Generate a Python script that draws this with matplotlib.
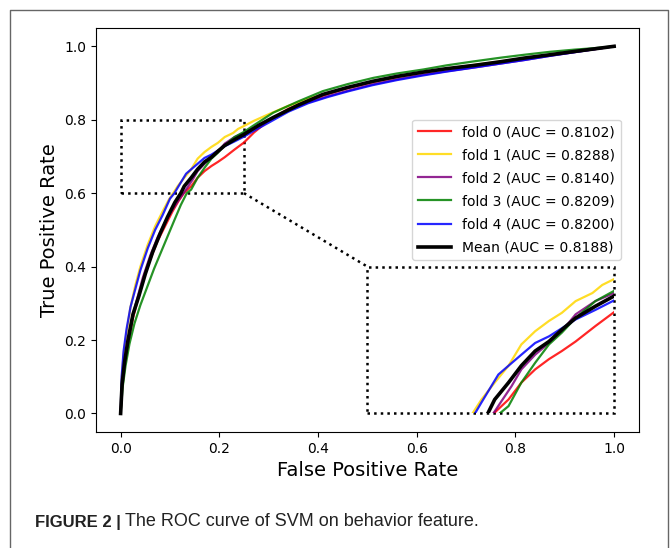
import matplotlib
matplotlib.use("Agg")
import matplotlib.pyplot as plt
from matplotlib.patches import Rectangle
from matplotlib.lines import Line2D

# ROC points, one list pair per fold
fold0_fpr = [0, 0.003, 0.008, 0.015, 0.025, 0.035, 0.045, 0.06, 0.075, 0.09, 0.105, 0.117, 0.128, 0.143, 0.156, 0.170, 0.184, 0.197, 0.211, 0.231, 0.25, 0.27, 0.3, 0.34, 0.38, 0.42, 0.46, 0.51, 0.56, 0.61, 0.66, 0.72, 0.77, 0.82, 0.87, 0.92, 0.96, 1.0]
fold0_tpr = [0, 0.07, 0.13, 0.19, 0.26, 0.31, 0.36, 0.42, 0.47, 0.51, 0.55, 0.578, 0.6, 0.619, 0.642, 0.660, 0.674, 0.685, 0.698, 0.719, 0.738, 0.765, 0.798, 0.83, 0.852, 0.87, 0.886, 0.902, 0.916, 0.928, 0.938, 0.949, 0.958, 0.967, 0.976, 0.985, 0.992, 1.0]

fold1_fpr = [0, 0.002, 0.006, 0.012, 0.02, 0.03, 0.04, 0.055, 0.07, 0.085, 0.098, 0.1065, 0.1156, 0.129, 0.143, 0.156, 0.170, 0.184, 0.197, 0.211, 0.228, 0.238, 0.25, 0.27, 0.3, 0.34, 0.38, 0.42, 0.46, 0.51, 0.56, 0.61, 0.66, 0.72, 0.77, 0.82, 0.87, 0.92, 0.96, 1.0]
fold1_tpr = [0, 0.09, 0.16, 0.22, 0.29, 0.35, 0.40, 0.46, 0.51, 0.55, 0.583, 0.6, 0.619, 0.642, 0.665, 0.694, 0.712, 0.726, 0.737, 0.753, 0.764, 0.775, 0.783, 0.797, 0.815, 0.838, 0.857, 0.873, 0.888, 0.904, 0.917, 0.929, 0.939, 0.95, 0.959, 0.968, 0.977, 0.986, 0.993, 1.0]

fold2_fpr = [0, 0.003, 0.008, 0.015, 0.025, 0.035, 0.045, 0.06, 0.075, 0.09, 0.105, 0.117, 0.1276, 0.136, 0.146, 0.156, 0.170, 0.184, 0.197, 0.211, 0.231, 0.25, 0.27, 0.3, 0.34, 0.38, 0.42, 0.46, 0.51, 0.56, 0.61, 0.66, 0.72, 0.77, 0.82, 0.87, 0.92, 0.96, 1.0]
fold2_tpr = [0, 0.08, 0.14, 0.2, 0.27, 0.32, 0.37, 0.43, 0.48, 0.52, 0.555, 0.58, 0.6, 0.617, 0.637, 0.660, 0.680, 0.696, 0.712, 0.735, 0.753, 0.764, 0.777, 0.797, 0.825, 0.847, 0.864, 0.879, 0.896, 0.91, 0.922, 0.932, 0.943, 0.953, 0.963, 0.974, 0.984, 0.992, 1.0]

fold3_fpr = [0, 0.004, 0.01, 0.018, 0.028, 0.04, 0.054, 0.068, 0.082, 0.096, 0.11, 0.122, 0.134, 0.143, 0.156, 0.170, 0.184, 0.197, 0.211, 0.231, 0.25, 0.27, 0.309, 0.36, 0.41, 0.46, 0.512, 0.56, 0.614, 0.66, 0.716, 0.77, 0.818, 0.87, 0.92, 0.96, 1.0]
fold3_tpr = [0, 0.07, 0.13, 0.19, 0.245, 0.295, 0.345, 0.395, 0.44, 0.485, 0.53, 0.568, 0.6, 0.610, 0.642, 0.669, 0.694, 0.710, 0.730, 0.753, 0.767, 0.785, 0.819, 0.85, 0.878, 0.897, 0.914, 0.926, 0.937, 0.948, 0.959, 0.969, 0.977, 0.985, 0.991, 0.995, 1.0]

fold4_fpr = [0, 0.002, 0.006, 0.012, 0.02, 0.03, 0.04, 0.055, 0.07, 0.085, 0.1, 0.109, 0.1156, 0.1327, 0.143, 0.156, 0.170, 0.184, 0.197, 0.211, 0.231, 0.25, 0.27, 0.3, 0.34, 0.38, 0.42, 0.46, 0.51, 0.56, 0.61, 0.66, 0.72, 0.77, 0.82, 0.87, 0.92, 0.96, 1.0]
fold4_tpr = [0, 0.1, 0.17, 0.23, 0.29, 0.34, 0.39, 0.45, 0.5, 0.54, 0.585, 0.6, 0.615, 0.653, 0.665, 0.680, 0.696, 0.705, 0.716, 0.728, 0.741, 0.754, 0.77, 0.792, 0.822, 0.845, 0.862, 0.877, 0.894, 0.908, 0.92, 0.931, 0.943, 0.953, 0.963, 0.974, 0.984, 0.992, 1.0]

mean_fpr = [0, 0.003, 0.008, 0.015, 0.025, 0.037, 0.05, 0.065, 0.08, 0.095, 0.11, 0.122, 0.129, 0.143, 0.156, 0.170, 0.184, 0.197, 0.211, 0.231, 0.25, 0.28, 0.309, 0.36, 0.41, 0.46, 0.512, 0.56, 0.614, 0.66, 0.716, 0.77, 0.818, 0.87, 0.92, 0.96, 1.0]
mean_tpr = [0, 0.08, 0.14, 0.2, 0.27, 0.32, 0.38, 0.44, 0.49, 0.535, 0.575, 0.6, 0.619, 0.642, 0.665, 0.685, 0.698, 0.714, 0.730, 0.746, 0.760, 0.785, 0.806, 0.84, 0.869, 0.888, 0.905, 0.918, 0.93, 0.939, 0.948, 0.958, 0.968, 0.977, 0.986, 0.993, 1.0]

fold_aucs = [0.8102, 0.8288, 0.8140, 0.8209, 0.8200]
mean_auc = 0.8188
fold_colors = ["red", "gold", "purple", "green", "blue"]

folds = [
    (fold0_fpr, fold0_tpr),
    (fold1_fpr, fold1_tpr),
    (fold2_fpr, fold2_tpr),
    (fold3_fpr, fold3_tpr),
    (fold4_fpr, fold4_tpr),
]

fig = plt.figure(figsize=(6.71, 5.48), dpi=100)
ax = fig.add_axes([0.143, 0.212, 0.809, 0.737])


def draw_curves(a, with_labels):
    for i, (fpr, tpr) in enumerate(folds):
        lab = f"fold {i} (AUC = {fold_aucs[i]:.4f})" if with_labels else None
        a.plot(fpr, tpr, color=fold_colors[i], lw=1.6, alpha=0.85, label=lab)
    lab = f"Mean (AUC = {mean_auc:.4f})" if with_labels else None
    a.plot(mean_fpr, mean_tpr, color="black", lw=2.6, label=lab)


draw_curves(ax, True)

ax.set_xlabel("False Positive Rate", fontsize=14)
ax.set_ylabel("True Positive Rate", fontsize=14)
ax.tick_params(labelsize=10)
ax.legend(loc="upper right", bbox_to_anchor=(0.98, 0.79), fontsize=10,
          handlelength=2.4, labelspacing=0.65)

# zoomed region and its inset
ax.add_patch(Rectangle((0, 0.6), 0.25, 0.2, fill=False, ls=":", lw=1.8, ec="black"))
ax.add_patch(Rectangle((0.5, 0.0), 0.5, 0.4, fill=False, ls=":", lw=1.8, ec="black"))
ax.plot([0.25, 0.5], [0.6, 0.4], ls=":", lw=1.8, color="black")

axins = ax.inset_axes([0.5, 0.0, 0.5, 0.4], transform=ax.transData)
draw_curves(axins, False)
axins.set_xlim(0, 0.25)
axins.set_ylim(0.6, 0.8)
axins.axis("off")

# page frame and caption
fig.add_artist(Line2D([10 / 671, 10 / 671, 668 / 671, 668 / 671],
                      [0, 1 - 10 / 548, 1 - 10 / 548, 0],
                      transform=fig.transFigure, color="#666666", lw=1))
cap_font = ["Liberation Sans Narrow", "Liberation Sans", "DejaVu Sans"]
cap_y = 1 - 522 / 548
bold = fig.text(35 / 671, cap_y, "FIGURE 2 |", fontsize=12, fontweight="bold",
                family=cap_font, va="center", color="#222222")
fig.canvas.draw()
bb = bold.get_window_extent(renderer=fig.canvas.get_renderer())
fig.text((bb.x1 + 4) / 671, cap_y, "The ROC curve of SVM on behavior feature.",
         fontsize=13, family=cap_font, va="center", color="#222222")

fig.savefig("out.png", dpi=100)
